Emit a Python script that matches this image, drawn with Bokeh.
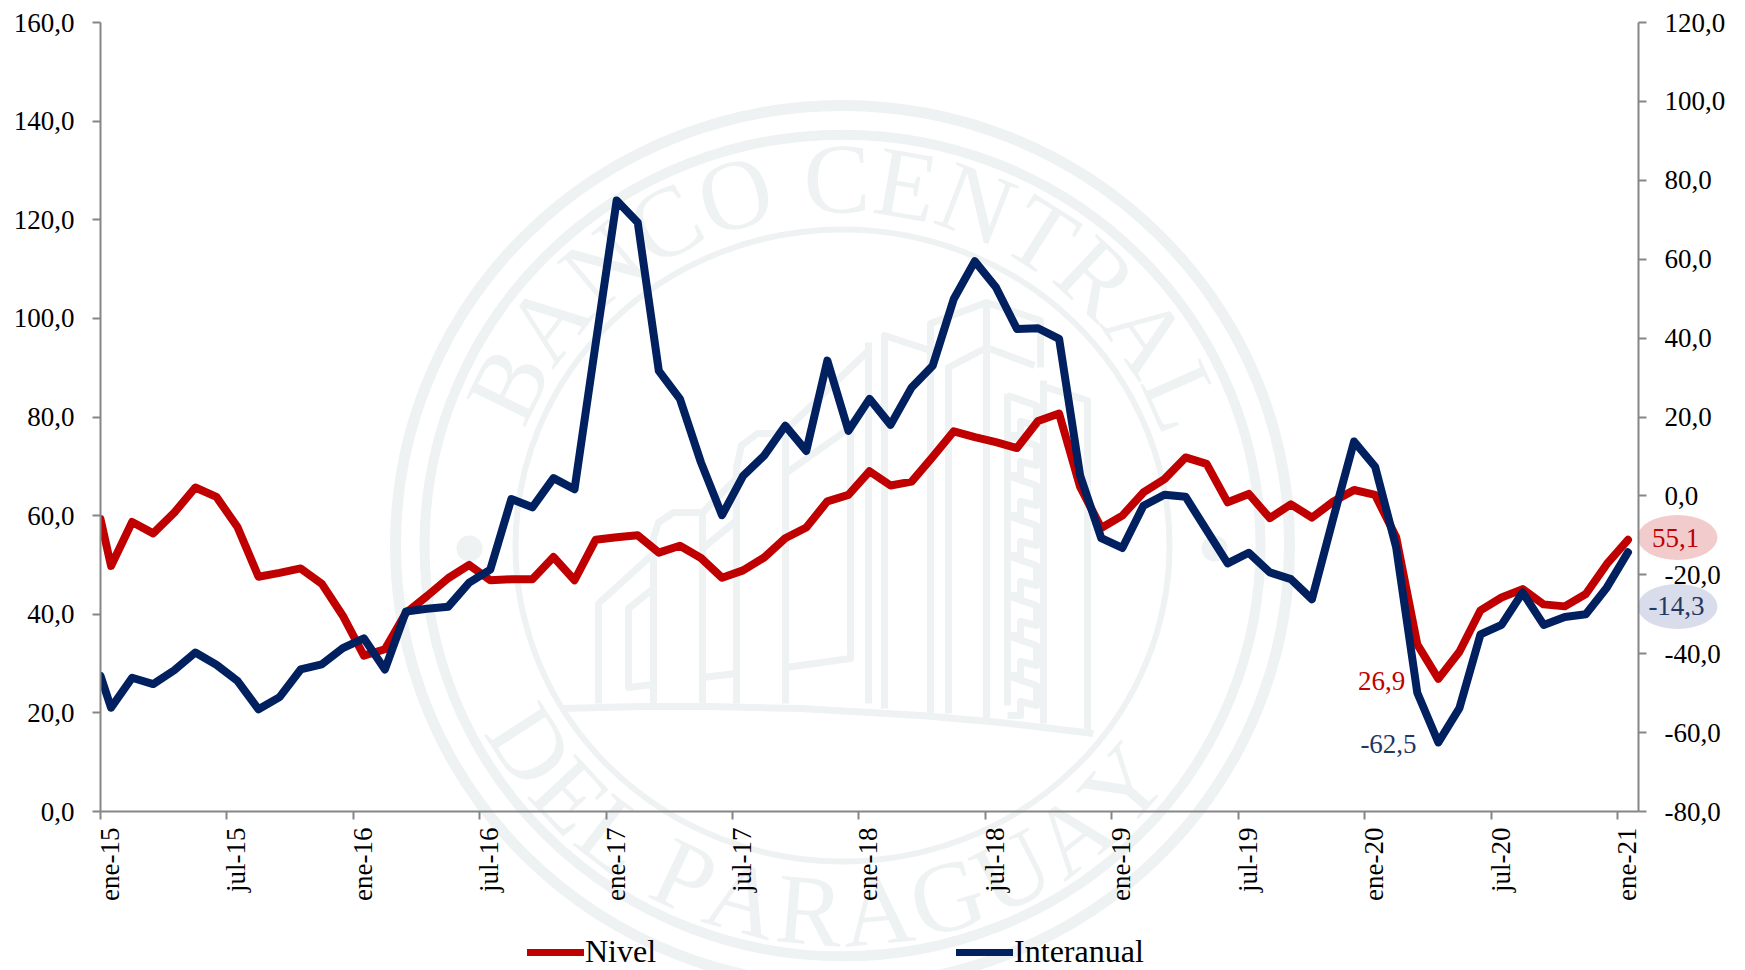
import math
from bokeh.embed import file_html
from bokeh.resources import INLINE
from bokeh.plotting import figure
from bokeh.core.properties import value
from bokeh.models import Range1d, LinearAxis, FixedTicker, Legend, LegendItem, Column

# ---------- data ----------
nivel = [59.3, 49.8, 58.7, 56.4, 60.6, 65.7, 63.8, 57.7, 47.6, 48.4, 49.3, 46.2, 39.7, 31.6, 32.9,
         40.3, 43.7, 47.3, 50.0, 46.9, 47.1, 47.1, 51.6, 46.9, 55.1, 55.6, 56.0, 52.5, 53.9, 51.4,
         47.4, 48.9, 51.5, 55.4, 57.6, 62.9, 64.2, 69.0, 66.1, 66.9, 71.9, 77.1, 75.9, 74.9, 73.7,
         79.2, 80.7, 65.8, 57.5, 60.0, 64.7, 67.4, 71.8, 70.5, 62.7, 64.4, 59.5, 62.3, 59.6, 62.8,
         65.2, 64.2, 55.6, 33.9, 26.9, 32.4, 40.8, 43.4, 45.1, 42.0, 41.6, 44.1, 50.2, 55.1]
interanual = [-45.6, -53.7, -46.1, -47.7, -44.2, -39.7, -42.8, -46.9, -54.1, -51.0, -44.0, -42.7,
              -38.6, -36.1, -44.0, -29.3, -28.6, -28.1, -22.0, -18.7, -0.8, -2.9, 4.5, 1.7, 38.5,
              74.9, 69.3, 31.7, 24.6, 8.5, -4.9, 5.1, 10.2, 17.8, 11.4, 34.3, 16.5, 24.6, 18.0,
              27.5, 33.0, 49.9, 59.5, 52.9, 42.3, 42.5, 39.8, 5.1, -10.7, -13.2, -2.5, 0.3, -0.2,
              -8.7, -17.1, -14.4, -19.4, -21.1, -26.2, -5.9, 13.8, 7.4, -13.1, -49.9, -62.5, -53.8,
              -35.1, -32.7, -24.5, -32.7, -30.7, -30.0, -23.2, -14.3]
months = [0] + [i + 0.5 for i in range(73)]

x_tick_labels = ["ene-15", "jul-15", "ene-16", "jul-16", "ene-17", "jul-17", "ene-18", "jul-18",
                 "ene-19", "jul-19", "ene-20", "jul-20", "ene-21"]
x_ticks = [6 * i for i in range(13)]
left_ticks = [0, 20, 40, 60, 80, 100, 120, 140, 160]
right_ticks = [-80, -60, -40, -20, 0, 20, 40, 60, 80, 100, 120]

FONT = "Liberation Serif"
RED, NAVY, NAVY2, AXIS, WM = "#C00000", "#002060", "#1F3864", "#868686", "#EEF2F3"
FR_L, FR_T, FR_W, FR_H = 100, 22, 1538, 789   # frame on the page
W, H = 1745, 970


def comma(v):
    return f"{v:.1f}".replace(".", ",")


# ---------- back layer: seal watermark, callouts, legend ----------
# The column lines up both figures' left borders, so this frame starts at FR_L too.
bg = figure(width=W, height=H, output_backend="svg", toolbar_location=None,
            x_range=Range1d(FR_L, FR_L + W), y_range=Range1d(H, 0), frame_width=W, frame_height=H,
            min_border=0, x_axis_location=None, y_axis_location=None, outline_line_color=None)
bg.grid.visible = False

CX, CY = 842, 545
for rx, ry, lw in [(447, 440, 11), (418, 411, 10), (327, 316, 6)]:
    bg.ellipse([CX], [CY], width=[2 * rx], height=[2 * ry], fill_color=None, line_color=WM, line_width=lw)
bg.ellipse([CX - 373, CX + 372], [CY + 3, CY + 3], width=[26, 26], height=[26, 26], fill_color=WM, line_color=None)

char_w = dict(zip("BANCOETRLDPGUY ", [.667, .722, .722, .667, .722, .611, .611, .667, .611, .722, .556, .722, .722, .722, .25]))


def arc_text(txt, a0, a1, bottom):
    pos, s = [], 0
    for c in txt:
        pos.append(s + char_w[c] / 2)
        s += char_w[c]
    lo, hi = pos[0], pos[-1]
    xs, ys, ts, angs = [], [], [], []
    for c, q in zip(txt, pos):
        if c == " ":
            continue
        a = math.radians(a0 + (a1 - a0) * (q - lo) / (hi - lo))
        r = 372
        xs.append(CX + r * math.sin(a))
        ys.append(CY + (1 if bottom else -1) * 0.985 * r * math.cos(a))
        ts.append(c)
        angs.append(a if bottom else -a)
    bg.text(xs, ys, text=ts, angle=angs, text_font=value(FONT), text_font_size="100px", text_color=WM,
            text_align="center", text_baseline="middle")


arc_text("BANCO CENTRAL", -64, 66, False)
arc_text("DEL PARAGUAY", -57, 49, True)

wm_lines = [
    [(562, 708), (640, 706), (710, 706), (800, 708), (920, 715), (1000, 722), (1093, 733)],
    [(598, 703), (598, 603), (653, 553)],
    [(653, 588), (628, 608), (628, 687), (653, 684)],
    [(653, 703), (653, 537), (658, 522), (673, 512), (702, 512), (702, 703)],
    [(702, 548), (736, 520)], [(702, 512), (736, 478)],
    [(736, 703), (736, 467), (741, 445), (757, 433), (785, 433), (785, 703)],
    [(702, 677), (736, 673)],
    [(785, 473), (850, 427), (850, 658), (785, 667)],
    [(785, 430), (868, 350)],
    [(868, 703), (868, 342)], [(884, 708), (884, 335), (930, 350)],
    [(930, 713), (930, 323), (986, 302), (1040, 320), (1040, 367)],
    [(948, 713), (948, 367), (986, 347), (1034, 365)],
    [(986, 720), (986, 302)],
    [(1040, 385), (1087, 400), (1087, 733)],
    [(1043, 723), (1043, 380)],
    [(1007, 705), (1007, 393)],
]
for k in range(8):
    y0 = 395 + 40 * k
    wm_lines.append([(1007, y0), (1036, y0 + 10), (1036, y0 + 30), (1020, y0 + 26), (1020, y0 + 40), (1007, y0 + 40)])
bg.multi_line([[q[0] for q in l] for l in wm_lines], [[q[1] for q in l] for l in wm_lines],
              line_color=WM, line_width=7, line_join="round")

bg.ellipse([1677, 1677], [537, 606], width=[80, 80], height=[45, 45], fill_color=["#F2CCCC", "#D9DCEB"], line_color=None)
bg.text([1675, 1676, 1381, 1388], [537, 605, 680, 743], text=["55,1", "-14,3", "26,9", "-62,5"],
        text_font=value(FONT), text_font_size="27px", text_color=[RED, NAVY2, RED, NAVY2],
        text_align="center", text_baseline="middle")

k1 = bg.line([-100, -90], [-100, -100], line_color=RED, line_width=7, line_cap="round")
k2 = bg.line([-100, -90], [-100, -100], line_color=NAVY, line_width=7, line_cap="round")
leg = Legend(items=[LegendItem(label="Nivel", renderers=[k1]), LegendItem(label="Interanual", renderers=[k2])],
             orientation="horizontal", location=(527, H - 970), background_fill_alpha=0,
             border_line_color=None, label_text_font=FONT, label_text_font_size="32px", label_text_color="#000000",
             glyph_width=57, glyph_height=30, label_standoff=1, spacing=300, padding=0, margin=0)
bg.add_layout(leg)

# ---------- front layer: the chart ----------
p = figure(width=W, height=H, output_backend="svg", toolbar_location=None,
           x_range=Range1d(0, 73), y_range=Range1d(0, 160),
           frame_width=FR_W, frame_height=FR_H,
           min_border_left=FR_L, min_border_top=FR_T, min_border_right=10, min_border_bottom=10,
           x_axis_location=None, y_axis_location=None, outline_line_color=None,
           background_fill_alpha=0, border_fill_alpha=0)
p.grid.visible = False
p.margin = (-H, 0, 0, 0)
p.extra_y_ranges["right"] = Range1d(-80, 120)


def style(ax):
    ax.axis_line_color = AXIS
    ax.axis_line_width = 2
    ax.major_tick_line_color = AXIS
    ax.major_tick_line_width = 2
    ax.major_tick_in = 0
    ax.major_tick_out = 8
    ax.minor_tick_line_color = None
    ax.major_label_text_font = FONT
    ax.major_label_text_color = "#000000"
    ax.major_label_text_font_size = "27px"


la = LinearAxis(ticker=FixedTicker(ticks=left_ticks), major_label_standoff=18,
                major_label_overrides={t: comma(t) for t in left_ticks})
style(la)
p.add_layout(la, "left")
ra = LinearAxis(y_range_name="right", ticker=FixedTicker(ticks=right_ticks), major_label_standoff=18,
                major_label_overrides={t: comma(t) for t in right_ticks})
style(ra)
p.add_layout(ra, "right")

ba = LinearAxis(ticker=FixedTicker(ticks=x_ticks), major_label_overrides={t: "" for t in x_ticks})
style(ba)
ba.major_label_text_font_size = "1px"
ba.major_label_standoff = 0
p.add_layout(ba, "below")
lab_shift = 0.45
bb = LinearAxis(ticker=FixedTicker(ticks=[t + lab_shift for t in x_ticks]),
                major_label_overrides={t + lab_shift: s for t, s in zip(x_ticks, x_tick_labels)},
                major_label_orientation=math.pi / 2, major_label_standoff=8)
style(bb)
bb.axis_line_color = None
bb.major_tick_line_color = None
bb.major_tick_out = 0
bb.major_label_text_font_size = "27px"
p.add_layout(bb, "below")

p.line(months, nivel, line_color=RED, line_width=8, line_join="round", line_cap="round")
p.line(months, interanual, y_range_name="right", line_color=NAVY, line_width=8, line_join="round", line_cap="round")

open("out.html", "w").write(file_html(Column(children=[bg, p]), INLINE))
